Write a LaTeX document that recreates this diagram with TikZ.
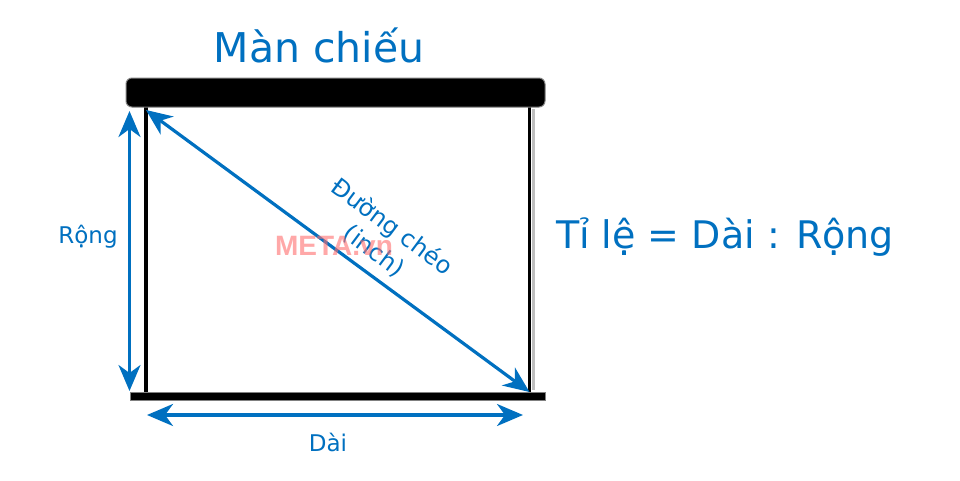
\documentclass[tikz,border=0pt]{standalone}
\usepackage{fontspec}
\setmainfont{DejaVu Sans}
\newfontfamily\markfont{Liberation Sans}
\usetikzlibrary{arrows.meta}
\definecolor{screenblue}{RGB}{0,112,192}
\definecolor{markred}{RGB}{255,110,110}
\tikzset{
  dimtip/.tip={Stealth[length=26pt,width=22pt,inset=8pt]},
  dim/.style={screenblue,line width=3.2pt,dimtip-dimtip},
  lbl/.style={text=screenblue,inner sep=0pt}}
\begin{document}
\begin{tikzpicture}[x=1pt,y=-1pt,line width=3.4pt]
  \useasboundingbox (0,0) rectangle (960,480);
  \coordinate (tl) at (146,107);
  \coordinate (tr) at (529.5,107);
  \coordinate (bl) at (146,392);
  \coordinate (br) at (529.5,392);
  \coordinate (rt) at (129.5,111);
  \coordinate (rb) at (129.5,391);
  \coordinate (dl) at (147,415);
  \coordinate (dr) at (523,415);
  % screen frame
  \draw[gray!50,line width=3pt] (533,109)--(533,390);
  \draw (tl)--(bl);
  \draw (tr)--(br);
  \draw[fill=black,draw=gray,line width=1pt,rounded corners=6pt] (126,78) rectangle (545,107);
  \draw[fill=black,draw=gray,line width=1pt] (130,392) rectangle (545,400);
  % dimensions
  \draw[dim] ([yshift=-3pt]tl)--(br);
  \draw[dim] (rt)--(rb);
  \draw[dim] (dl)--(dr);
  \node[lbl,font=\fontsize{41}{44}\selectfont] (title) at (319,45) {Màn chiếu};
  \node[lbl,font=\fontsize{23}{28}\selectfont] (height) at (88,237) {Rộng};
  \node[lbl,font=\fontsize{23}{28}\selectfont] (width) at (328,442) {Dài};
  \node[lbl,font=\fontsize{24}{30}\selectfont,rotate=-36.7,align=center] (diag) at (383,239) {Đường chéo\\(inch)};
  \node[lbl,font=\fontsize{38}{42}\selectfont] (ratio) at (725,237) {Tỉ lệ = Dài : Rộng};
  \node[text=markred,opacity=.6,font=\markfont\bfseries\fontsize{28}{30}\selectfont,inner sep=0pt] (mark) at (334,246) {META.vn};
\end{tikzpicture}
\end{document}
